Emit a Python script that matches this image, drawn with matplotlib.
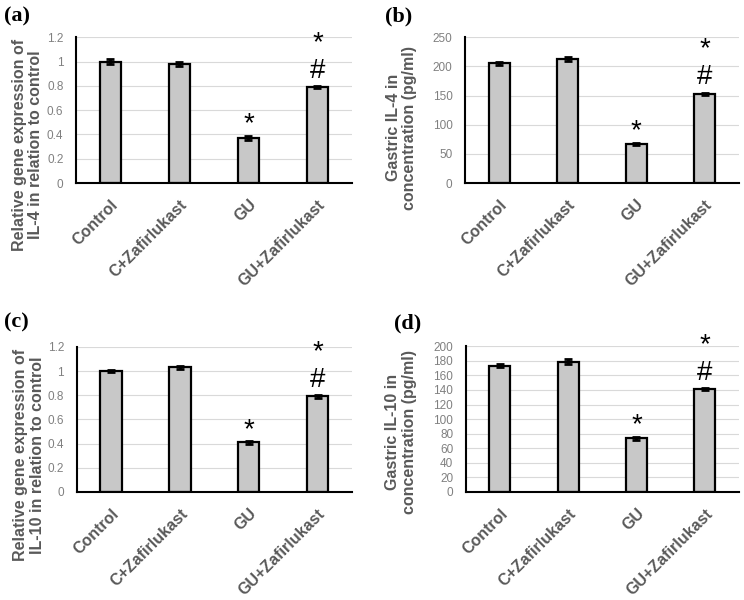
import matplotlib.pyplot as plt

groups = ["Control", "C+Zafirlukast", "GU", "GU+Zafirlukast"]

il4_gene = [1.00, 0.98, 0.37, 0.79]
il4_gene_err = [0.02, 0.02, 0.02, 0.01]
il4_conc = [205, 213, 67, 153]
il4_conc_err = [3, 3, 2, 2]
il10_gene = [1.00, 1.03, 0.41, 0.79]
il10_gene_err = [0.01, 0.01, 0.01, 0.01]
il10_conc = [173, 179, 74, 141]
il10_conc_err = [2, 4, 2, 1]

# significance marks per bar
marks = [[], [], ["*"], ["#", "*"]]

# tag, values, errors, y label, ymax, step, axes rect, tag position, y label coords
panels = [
    ("(a)", il4_gene, il4_gene_err, "Relative gene expression of\nIL-4 in relation to control",
     1.2, 0.2, [0.102, 0.695, 0.371, 0.243], (0.005, 0.99), (-0.12, 0.26)),
    ("(b)", il4_conc, il4_conc_err, "Gastric IL-4 in\nconcentration (pg/ml)",
     250, 50, [0.625, 0.695, 0.368, 0.243], (0.518, 0.99), (-0.175, 0.38)),
    ("(c)", il10_gene, il10_gene_err, "Relative gene expression of\nIL-10 in relation to control",
     1.2, 0.2, [0.103, 0.18, 0.370, 0.242], (0.005, 0.48), (-0.116, 0.255)),
    ("(d)", il10_conc, il10_conc_err, "Gastric IL-10 in\nconcentration (pg/ml)",
     200, 20, [0.626, 0.18, 0.367, 0.243], (0.53, 0.477), (-0.18, 0.41)),
]

fig = plt.figure(figsize=(7.44, 6), dpi=100)

for tag, vals, errs, ylab, ymax, step, rect, tagpos, labpos in panels:
    ax = fig.add_axes(rect)
    x = range(len(groups))
    ax.bar(x, vals, width=0.31, color="#c8c8c8", edgecolor="black", linewidth=1.6, zorder=2)
    ax.errorbar(x, vals, yerr=errs, fmt="none", ecolor="black", elinewidth=2,
                capsize=3, capthick=2, zorder=3)
    ax.set_xlim(-0.5, 3.5)
    ax.set_ylim(0, ymax)
    n = int(round(ymax / step))
    ticks = [step * k for k in range(n + 1)]
    ax.set_yticks(ticks)
    ax.set_yticklabels([f"{t:g}" for t in ticks], color="#808080", fontsize=8.5,
                       family="Liberation Sans")
    ax.yaxis.grid(True, color="#d9d9d9", linewidth=0.8, zorder=0)
    ax.set_axisbelow(True)
    ax.set_xticks(list(x))
    ax.set_xticklabels(groups, rotation=45, ha="right", rotation_mode="anchor",
                       color="#595959", fontsize=11.5, fontweight="bold", family="Liberation Sans")
    ax.tick_params(axis="y", length=0, pad=9)
    ax.tick_params(axis="x", length=0, pad=10)
    for s in ["top", "right"]:
        ax.spines[s].set_visible(False)
    for s in ["left", "bottom"]:
        ax.spines[s].set_linewidth(1.5)
    ax.set_ylabel(ylab, color="#595959", fontsize=11.5, fontweight="bold",
                  family="Liberation Sans", linespacing=1.1)
    ax.yaxis.set_label_coords(labpos[0], labpos[1])
    for i, ms in enumerate(marks):
        offs = [11, 31] if len(ms) == 2 else [8]
        for m, off in zip(ms, offs):
            ax.annotate(m, xy=(i, vals[i] + errs[i]), xytext=(0, off), textcoords="offset points",
                        ha="center", va="center", fontsize=20, family="Liberation Sans")
    fig.text(tagpos[0], tagpos[1], tag, fontsize=16, fontweight="bold", family="Liberation Serif",
             ha="left", va="top")

fig.savefig("out.png", dpi=100)
